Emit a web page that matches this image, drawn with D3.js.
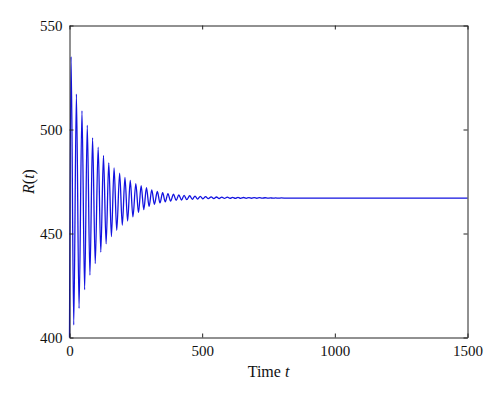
<!DOCTYPE html>
<html>
<head>
<meta charset="utf-8">
<script src="https://cdn.jsdelivr.net/npm/d3@7"></script>
<style>
  body { margin: 0; background: #fff; }
  text { font-family: "Liberation Serif", "DejaVu Serif", serif; fill: #111; }
</style>
</head>
<body>
<script>
// peaks and troughs of R(t)
var peakT = [6, 26, 47, 67, 87, 108, 128, 148, 168, 189, 209, 229, 250, 270, 290, 310, 331, 351, 371, 392,
             412, 432, 453, 473, 493, 513, 534, 554, 574, 595, 615, 635, 656, 676, 696, 716, 737, 757, 777, 798];
var peakR = [535, 517, 509, 502, 496, 491.5, 487.5, 484, 481.5, 479, 477, 475.5, 474, 473, 472, 471, 470.2, 469.6, 469.2, 468.9,
             468.6, 468.35, 468.15, 468, 467.85, 467.75, 467.65, 467.55, 467.5, 467.45, 467.4, 467.35, 467.3, 467.27, 467.24, 467.21, 467.18, 467.15, 467.12, 467.1];
var troughT = [16, 36, 57, 77, 97, 118, 138, 158, 178, 199, 219, 239, 260, 280, 300, 320, 341, 361, 381, 402,
               422, 442, 463, 483, 503, 523, 544, 564, 584, 605, 625, 645, 666, 686, 706, 726, 747, 767, 787];
var troughR = [406, 414, 423, 430, 435.5, 441, 445, 448.5, 451.5, 454, 456, 458, 460, 461.5, 463, 464, 464.7, 465.2, 465.6, 465.9,
               466.1, 466.3, 466.45, 466.55, 466.65, 466.72, 466.78, 466.82, 466.86, 466.88, 466.9, 466.92, 466.93, 466.94, 466.95, 466.96, 466.97, 466.98, 466.99];
var startPoint = [0, 400];
var endPoints = [[820, 467], [1500, 467]];

var xTicks = [0, 500, 1000, 1500];
var yTicks = [400, 450, 500, 550];

var width = 500, height = 400;
var margin = {left: 69.5, right: 32.5, top: 25.5, bottom: 62.5};

var svg = d3.select("body").append("svg").attr("width", width).attr("height", height);

var x = d3.scaleLinear().domain([0, 1500]).range([margin.left, width - margin.right]);
var y = d3.scaleLinear().domain([400, 550]).range([height - margin.bottom, margin.top]);

// merge extrema into one series
var pts = [startPoint];
for (var i = 0; i < peakT.length; i++) {
    pts.push([peakT[i], peakR[i]]);
    if (i < troughT.length) pts.push([troughT[i], troughR[i]]);
}
pts = pts.concat(endPoints);

var line = d3.line()
    .x(function (d) { return x(d[0]); })
    .y(function (d) { return y(d[1]); })
    .curve(d3.curveMonotoneX);

svg.append("path")
    .datum(pts)
    .attr("d", line)
    .attr("fill", "none")
    .attr("stroke", "#1212e0")
    .attr("stroke-width", 1.3);

// axes, MATLAB style box with inward ticks
var tickLen = 4;
var fmt = d3.format("d");
svg.append("g").attr("transform", "translate(0," + y(400) + ")")
    .call(d3.axisBottom(x).tickValues(xTicks).tickSizeInner(-tickLen).tickSizeOuter(0).tickPadding(8).tickFormat(fmt))
    .call(function (g) { g.selectAll("text").attr("dy", "0.71em"); });
svg.append("g").attr("transform", "translate(0," + y(550) + ")")
    .call(d3.axisTop(x).tickValues(xTicks).tickSizeInner(-tickLen).tickSizeOuter(0).tickFormat(""));
svg.append("g").attr("transform", "translate(" + x(0) + ",0)")
    .call(d3.axisLeft(y).tickValues(yTicks).tickSizeInner(-tickLen).tickSizeOuter(0).tickPadding(7).tickFormat(fmt));
svg.append("g").attr("transform", "translate(" + x(1500) + ",0)")
    .call(d3.axisRight(y).tickValues(yTicks).tickSizeInner(-tickLen).tickSizeOuter(0).tickFormat(""));

svg.selectAll("g").attr("font-family", "Liberation Serif, serif").attr("font-size", 15);
svg.selectAll(".domain").attr("stroke", "#222").attr("stroke-width", 1);
svg.selectAll(".tick line").attr("stroke", "#222");
svg.selectAll(".tick text").attr("fill", "#111");

// labels
var xl = svg.append("text")
    .attr("x", (x(0) + x(1500)) / 2)
    .attr("y", 377)
    .attr("text-anchor", "middle")
    .style("font-size", "16px");
xl.append("tspan").text("Time ");
xl.append("tspan").style("font-style", "italic").text("t");

var yl = svg.append("text")
    .attr("transform", "translate(34," + (y(400) + y(550)) / 2 + ") rotate(-90)")
    .attr("text-anchor", "middle")
    .style("font-size", "16px");
yl.append("tspan").style("font-style", "italic").text("R");
yl.append("tspan").text("(");
yl.append("tspan").style("font-style", "italic").text("t");
yl.append("tspan").text(")");
</script>
</body>
</html>
